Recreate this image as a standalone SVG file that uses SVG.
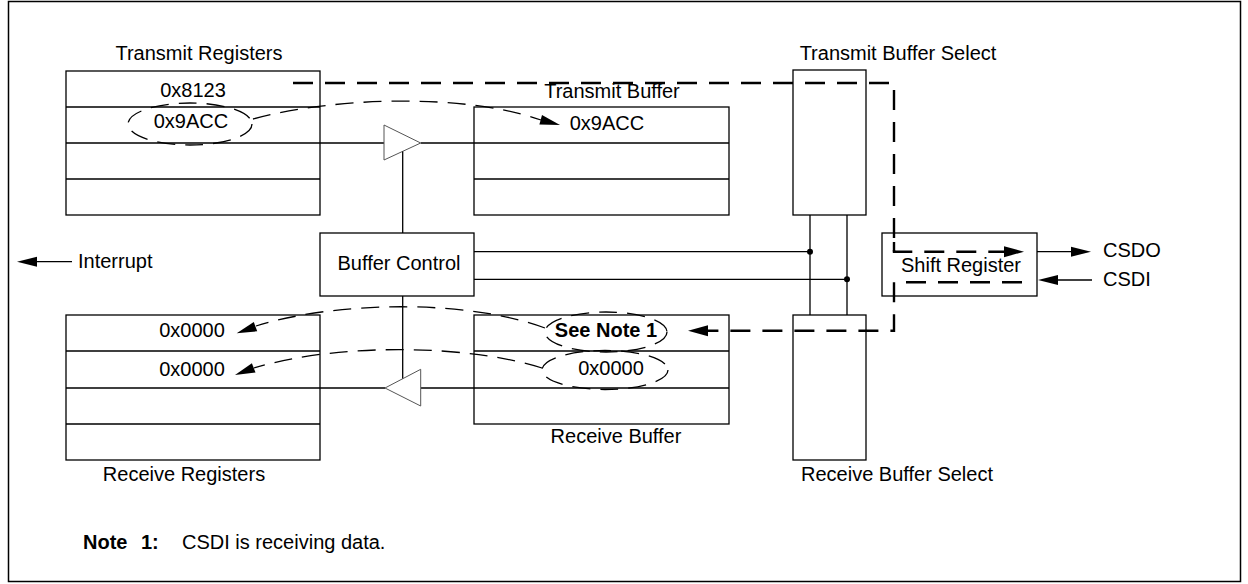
<svg xmlns="http://www.w3.org/2000/svg" width="1248" height="584" viewBox="0 0 1248 584">
<style>
text{font-family:"Liberation Sans",Arial,sans-serif;font-size:20px;fill:#000}
.b{font-weight:bold}
.m{text-anchor:middle}
.box{fill:#fff;stroke:#000;stroke-width:1.3}
.ln{fill:none;stroke:#000;stroke-width:1.3}
.tri{fill:#fff;stroke:#555;stroke-width:1}
.bd{fill:none;stroke:#000;stroke-width:2.4;stroke-dasharray:20 12}
.cd{fill:none;stroke:#000;stroke-width:1.3;stroke-dasharray:18 10}
.ah{fill:#000;stroke:none}
</style>
<rect x="8.5" y="1.5" width="1232" height="580" fill="#fff" stroke="#000" stroke-width="1.5"/>

<g id="transmit-registers">
<rect class="box" x="66" y="71" width="254" height="144"/>
<path class="ln" d="M66 107H320M66 143H320M66 179H320"/>
<text class="m" x="199" y="60">Transmit Registers</text>
<text class="m" x="193" y="97">0x8123</text>
<text class="m" x="191" y="128">0x9ACC</text>
<ellipse class="cd" cx="190" cy="124" rx="62" ry="21"/>
</g>

<g id="transmit-buffer">
<rect class="box" x="474" y="107" width="255" height="108"/>
<path class="ln" d="M474 143H729M474 179H729"/>
<text class="m" x="612" y="98">Transmit Buffer</text>
<text class="m" x="607" y="130">0x9ACC</text>
</g>

<g id="transmit-buffer-select">
<rect class="box" x="793" y="70" width="73" height="145"/>
<text class="m" x="898" y="60">Transmit Buffer Select</text>
</g>

<g id="buffer-control">
<rect class="box" x="320" y="233" width="154" height="63"/>
<text class="m" x="399" y="270">Buffer Control</text>
</g>

<g id="shift-register">
<rect class="box" x="882" y="233" width="155" height="63"/>
<text class="m" x="961" y="272">Shift Register</text>
</g>

<g id="receive-registers">
<rect class="box" x="66" y="315" width="254" height="145"/>
<path class="ln" d="M66 351H320M66 388H320M66 424H320"/>
<text class="m" x="184" y="481">Receive Registers</text>
<text class="m" x="192" y="337">0x0000</text>
<text class="m" x="192" y="376">0x0000</text>
</g>

<g id="receive-buffer">
<rect class="box" x="474" y="315" width="255" height="109"/>
<path class="ln" d="M474 351H729M474 388H729"/>
<text class="m" x="616" y="443">Receive Buffer</text>
<text class="m b" x="606" y="337">See Note 1</text>
<text class="m" x="611" y="375">0x0000</text>
<ellipse class="cd" cx="606" cy="332" rx="61" ry="20"/>
<ellipse class="cd" cx="605" cy="370" rx="63" ry="19.5"/>
</g>

<g id="receive-buffer-select">
<rect class="box" x="793" y="315" width="73" height="145"/>
<text class="m" x="897" y="481">Receive Buffer Select</text>
</g>

<g id="connectors">
<path class="ln" d="M320 143H384M420.7 143H474"/>
<polygon class="tri" points="384,125 420.7,143 384,160"/>
<path class="ln" d="M402.7 151.5V233M402.7 296V379"/>
<path class="ln" d="M320 388H385M420.7 388H474"/>
<polygon class="tri" points="385,388 420.7,369.3 420.7,406"/>
<path class="ln" d="M474 251.7H810M474 279.3H847M810 215V315M847 215V315"/>
<circle cx="810" cy="251.7" r="3" class="ah"/>
<circle cx="847" cy="279.3" r="3" class="ah"/>
<path class="ln" d="M72 261.7H36"/>
<polygon class="ah" points="17,261.7 37,256.7 37,266.7"/>
<text x="78" y="268">Interrupt</text>
<path class="ln" d="M1037 251.7H1072"/>
<polygon class="ah" points="1091,251.7 1071,246.7 1071,256.7"/>
<text x="1103" y="257">CSDO</text>
<path class="ln" d="M1092 280H1057"/>
<polygon class="ah" points="1038,280 1058,275 1058,285"/>
<text x="1103" y="286">CSDI</text>
<path class="bd" d="M293 83H894V251.7H1006"/>
<polygon class="ah" points="1024,251.7 1004,246.2 1004,257.2"/>
<path class="bd" d="M894 242V251.7"/>
<path class="bd" d="M1022 282.3H894V330.7H706"/>
<polygon class="ah" points="688,330.7 708,325.2 708,336.2"/>
<path class="cd" d="M253 119C330 98 460 92 541 120"/>
<polygon class="ah" points="560,125 539.4,124.5 542,114.9"/>
<path class="cd" d="M545 328C470 300 340 300 256 326"/>
<polygon class="ah" points="236.7,333.3 257.2,331.3 253.8,321.9"/>
<path class="cd" d="M542 368C470 345 340 342 254 368"/>
<polygon class="ah" points="235,375 255.5,372.6 251.9,363.2"/>
</g>

<g id="note">
<text y="549"><tspan class="b" x="83">Note</tspan><tspan class="b" x="141">1:</tspan><tspan x="182">CSDI is receiving data.</tspan></text>
</g>
</svg>
